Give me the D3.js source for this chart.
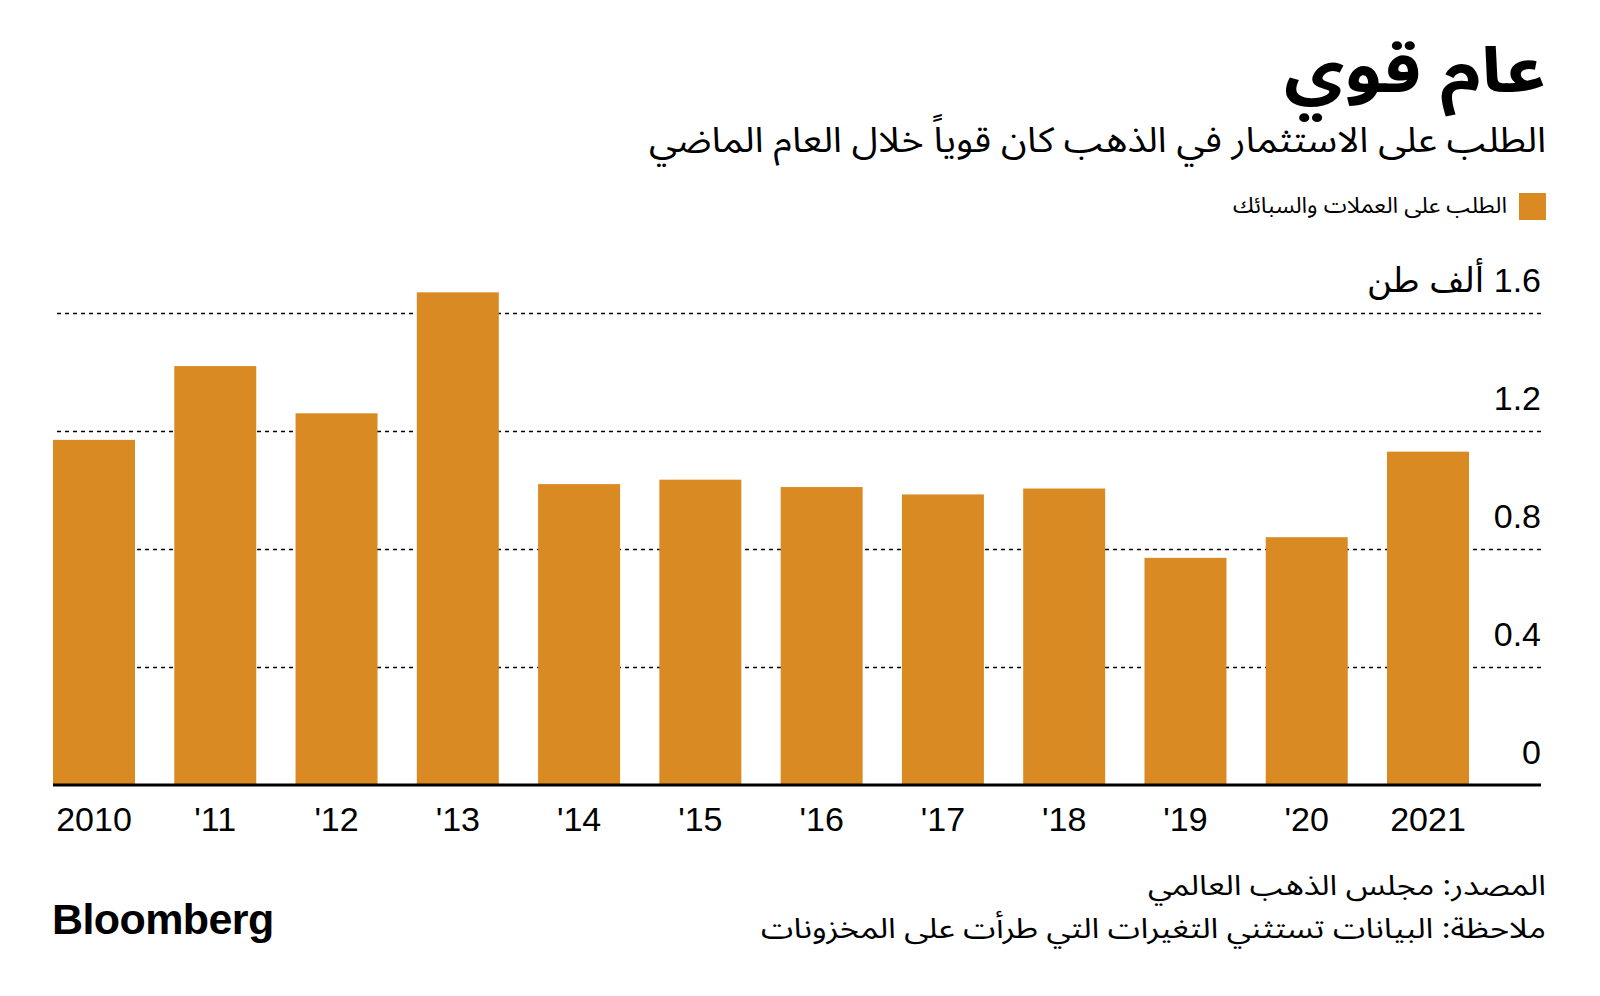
<!DOCTYPE html>
<html><head><meta charset="utf-8">
<script src="https://cdn.jsdelivr.net/npm/d3@7"></script>
<style>
html,body{margin:0;padding:0;background:#fff;}
svg{display:block;}
.ar{font-family:"Noto Sans Arabic","Noto Kufi Arabic","DejaVu Sans",sans-serif;}
</style></head>
<body>
<script>
const categories = ["2010","'11","'12","'13","'14","'15","'16","'17","'18","'19","'20","2021"];
const values = [1.17, 1.42, 1.26, 1.67, 1.02, 1.035, 1.01, 0.985, 1.005, 0.77, 0.84, 1.13];
const yTicks = [0, 0.4, 0.8, 1.2, 1.6];
const yTickLabels = ["0", "0.4", "0.8", "1.2", "1.6 ألف طن"];
const title = "عام قوي";
const subtitle = "الطلب على الاستثمار في الذهب كان قوياً خلال العام الماضي";
const legendLabel = "الطلب على العملات والسبائك";
const source = "المصدر: مجلس الذهب العالمي";
const note = "ملاحظة:  البيانات تستثني التغيرات التي طرأت على المخزونات";

const W = 1600, H = 996;
const svg = d3.select("body").append("svg").attr("width", W).attr("height", H);
svg.append("rect").attr("width", W).attr("height", H).attr("fill", "#fff");

const left = 53, right = 1541, barRight = 1469;
const x = d3.scaleBand().domain(categories).range([left, barRight]).paddingInner(0.324).paddingOuter(0);
const y = d3.scaleLinear().domain([0, 1.6]).range([785, 313]);

function arText(txt, xPos, yPos, size, len, weight) {
  return svg.append("text").attr("class","ar").attr("direction","rtl").attr("text-anchor","start")
    .attr("x", xPos).attr("y", yPos).attr("font-size", size).attr("font-weight", weight || 400)
    .attr("textLength", len).attr("lengthAdjust", "spacingAndGlyphs")
    .attr("fill","#000").text(txt);
}

// Title & subtitle
arText(title, 1546, 92, 63, 262, 700);
arText(subtitle, 1546, 152, 35, 897);

// Legend
svg.append("rect").attr("x", 1519).attr("y", 193).attr("width", 27).attr("height", 27).attr("fill", "#d98a22");
arText(legendLabel, 1507, 213, 22, 274);

// Gridlines
const yAxis = d3.axisLeft(y).tickValues(yTicks).tickSize(right - left).tickFormat((d,i)=>yTickLabels[i]);
const gy = svg.append("g").attr("transform", `translate(${right},0)`).call(yAxis);
gy.select(".domain").remove();
gy.selectAll(".tick line").attr("stroke","#000").attr("stroke-width",1.6).attr("stroke-dasharray","4,4");
gy.selectAll(".tick text").attr("x", 0).attr("dy", -22).attr("text-anchor","start").attr("direction","rtl")
  .attr("font-size", 34).attr("fill","#000")
  .attr("font-family", "'Liberation Sans', Arial, 'DejaVu Sans', sans-serif");
gy.selectAll(".tick").filter(d => d === 0).select("line").remove();

// Bars
svg.append("g").selectAll("rect").data(values).join("rect")
  .attr("x", (d,i) => x(categories[i]))
  .attr("y", d => y(d))
  .attr("width", x.bandwidth())
  .attr("height", d => y(0) - y(d))
  .attr("fill", "#d98a22");

// Baseline
svg.append("line").attr("x1", left).attr("x2", right).attr("y1", y(0)).attr("y2", y(0))
  .attr("stroke","#000").attr("stroke-width",3);

// X axis
const xAxis = d3.axisBottom(x).tickSize(0);
const gx = svg.append("g").attr("transform", `translate(0,${y(0)})`).call(xAxis);
gx.select(".domain").remove();
gx.selectAll(".tick text").attr("y", 46).attr("dy", 0).attr("font-size", 34).attr("fill","#000")
  .attr("font-family", "'Liberation Sans', Arial, sans-serif");

// Footer
arText(source, 1546, 895, 28, 398);
arText(note, 1546, 938, 28, 785);

svg.append("text").attr("x", 52).attr("y", 934).attr("font-size", 43).attr("font-weight", 700)
  .attr("letter-spacing", -0.6).attr("font-family","'Liberation Sans', Arial, sans-serif").attr("fill","#000").text("Bloomberg");
</script>
</body></html>
